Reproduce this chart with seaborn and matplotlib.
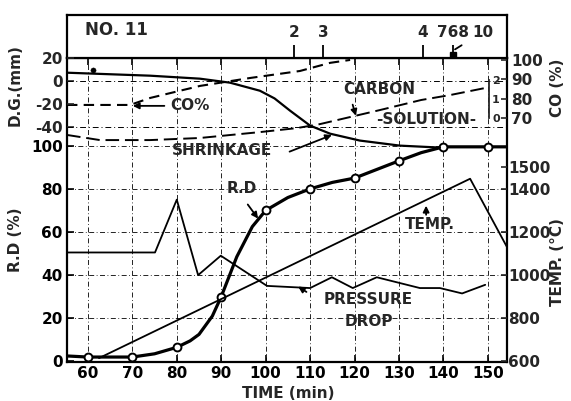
import numpy as np
import pandas as pd
import seaborn as sns
import matplotlib.pyplot as plt

# Readings taken off the figure (time in min)
rd_time = [60, 70, 80, 90, 100, 110, 120, 130, 140, 150]
rd_value = [2, 2, 6.5, 30, 70, 80, 85, 93, 99.5, 99.5]
rd_curve_time = [55.3, 60, 70, 75, 80, 83, 85, 88, 90, 93.5, 97, 100, 105, 110, 115,
                 120, 125, 130, 135, 140, 150, 154.3]
rd_curve_value = [2.5, 2, 2, 3.5, 6.5, 9.5, 12.5, 21, 30, 48.5, 62.5, 70, 76, 80, 83,
                  85, 89, 93, 96.8, 99.5, 99.5, 99.5]

temp_time = [62.5, 146, 154.3]
temp_value = [615, 1447, 1130]

dp_time = [55.3, 75.1, 80, 84.8, 89.9, 100.3, 110, 114.9, 119.6, 125, 134.7, 139.2, 144.2, 149.4]
dp_value = [50.5, 50.5, 75, 40, 49, 35, 34, 39, 34, 39, 34, 34, 31.5, 35.5]

dg_time = [55.3, 74, 85.2, 92, 98.7, 102, 105.5, 110, 114.5, 121.2, 130.2, 139.2]
dg_value = [7.4, 4.8, 2.2, -1.3, -8.3, -15, -25.7, -38.7, -45.7, -51.7, -56.1, -57.8]
dg_dot_time = [61.1]
dg_dot_value = [10]

co_time = [55.3, 69.5, 74, 85.2, 96.5, 107.7, 114.5, 119]
co_value = [76.8, 76.8, 80.4, 86.6, 90.7, 94.3, 98.5, 100]

carbon_time = [55.3, 62.7, 74, 85.2, 98.7, 107, 112.2, 125.7, 135, 141.5, 149.8]
carbon_value = [-0.89, -1.16, -1.16, -1.05, -0.74, -0.53, -0.32, 0.42, 0.95, 1.21, 1.6]

sample_time = [106.4, 112.9, 135.4, 142.2]
sample_label = ['2', '3', '4', '768']

sns.set_style('white')
plt.rcParams['font.family'] = ['DejaVu Sans']
plt.rcParams['font.weight'] = 'bold'
plt.rcParams['axes.unicode_minus'] = False

XLIM = (55.3, 154.3)
FS = 11

fig = plt.figure(figsize=(5.71, 4.01), dpi=100)
ax = fig.add_axes([67 / 571, 39 / 401, 440 / 571, 304 / 401])
ax_top = fig.add_axes([67 / 571, 343 / 401, 440 / 571, 43 / 401])

ax_t = ax.twinx()
ax_co = ax.twinx()
ax_dg = ax.twinx()
ax_c = ax.twinx()

# limits chosen so every scale lines up with the printed ticks
ax.set_xlim(XLIM)
ax.set_ylim(-0.3, 140.7)
ax_t.set_ylim(597, 2007)
ax_co.set_ylim(-55.7, 101.0)
ax_dg.set_ylim(-244.5, 20.2)
ax_c.set_ylim(-12.84, 3.16)

# grid (dash-dot like the print)
ax.grid(True, ls=(0, (6, 3, 1, 3)), lw=0.6, color='k')
ax_dg.axhline(0, ls=(0, (6, 3, 1, 3)), lw=0.7, color='k')
ax_dg.axhline(-40, ls=(0, (6, 3, 1, 3)), lw=0.7, color='k')

# series
sns.lineplot(x=dp_time, y=dp_value, ax=ax, color='k', lw=1.3, errorbar=None)
sns.lineplot(x=rd_curve_time, y=rd_curve_value, ax=ax, color='k', lw=2.3, errorbar=None)
sns.scatterplot(x=rd_time, y=rd_value, ax=ax, marker='o', s=32, color='white',
                edgecolor='k', linewidth=1.4, zorder=5)
sns.lineplot(x=temp_time, y=temp_value, ax=ax_t, color='k', lw=1.3, errorbar=None)
sns.lineplot(x=co_time, y=co_value, ax=ax_co, color='k', lw=1.5,
             linestyle=(0, (5, 3)), errorbar=None)
sns.lineplot(x=dg_time, y=dg_value, ax=ax_dg, color='k', lw=1.6, errorbar=None)
sns.scatterplot(x=dg_dot_time, y=dg_dot_value, ax=ax_dg, color='k', s=14, edgecolor='k')
sns.lineplot(x=carbon_time, y=carbon_value, ax=ax_c, color='k', lw=1.4,
             linestyle=(0, (7, 3)), errorbar=None)

# axes styling
for a in [ax_t, ax_co, ax_dg, ax_c]:
    for s in a.spines.values():
        s.set_visible(False)
    a.set_xlim(XLIM)
for s in ax.spines.values():
    s.set_linewidth(1.6)
    s.set_color('k')

ax.set_xticks(range(60, 151, 10))
ax.set_yticks(range(0, 101, 20))
ax.tick_params(axis='both', direction='in', length=5, width=1.2, labelsize=FS,
               top=True, left=True, bottom=True, pad=3, colors='k')

ax_dg.yaxis.tick_left()
ax_dg.set_yticks([20, 0, -20, -40])
ax_dg.tick_params(axis='y', direction='in', length=5, width=1.2, labelsize=FS,
                  left=True, right=False, labelleft=True, labelright=False, pad=3)

ax_co.set_yticks([70, 80, 90, 100])
ax_co.tick_params(axis='y', direction='in', length=4, width=1.2, labelsize=FS, pad=3)
ax_t.set_yticks([600, 800, 1000, 1200, 1400, 1500])
ax_t.tick_params(axis='y', direction='in', length=4, width=1.2, labelsize=FS, pad=1)

ax_c.spines['right'].set_visible(True)
ax_c.spines['right'].set_position(('data', 150.3))
ax_c.spines['right'].set_bounds(0, 2)
ax_c.spines['right'].set_linewidth(1.3)
ax_c.set_yticks([0, 1, 2])
ax_c.tick_params(axis='y', direction='in', length=0, labelsize=8, pad=2)

for a in [ax, ax_t, ax_co, ax_dg, ax_c]:
    a.set_xlabel('')
    a.set_ylabel('')

# top strip: sampling marks
ax_top.set_xlim(XLIM)
ax_top.set_ylim(0, 1)
ax_top.set_xticks([])
ax_top.set_yticks([])
for s in ax_top.spines.values():
    s.set_linewidth(1.6)
    s.set_color('k')
ax_top.vlines(sample_time, 0, 0.3, color='k', lw=1.3)
for t, lab in zip(sample_time, sample_label):
    ax_top.text(t, 0.6, lab, ha='center', va='center', fontsize=FS)
ax_top.plot([sample_time[-1]], [0.08], marker='s', ms=5, color='k')
ax_top.annotate('10', xy=(sample_time[-1] + 0.4, 0.2), xytext=(148.8, 0.6),
                ha='center', va='center', fontsize=FS,
                arrowprops=dict(arrowstyle='-', color='k', lw=1.3, shrinkA=6, shrinkB=0))
ax_top.text(0.04, 0.66, 'NO. 11', transform=ax_top.transAxes, ha='left', va='center', fontsize=12)

# annotations, in R.D data units of the main axes
tr = ax.transData
arrow = dict(arrowstyle='-|>', color='k', lw=1.3, mutation_scale=9, shrinkA=2, shrinkB=0)
ax_c.annotate('CO%', xy=(70.1, 118.5), xytext=(83, 118.5), xycoords=tr, textcoords=tr,
              ha='center', va='center', fontsize=FS, arrowprops=arrow)
ax_c.text(125.5, 125.9, 'CARBON', transform=tr, ha='center', va='center', fontsize=FS)
ax_c.annotate('', xy=(120.3, 113.9), xytext=(119.4, 120.3), xycoords=tr, textcoords=tr,
              arrowprops=arrow)
ax_c.text(136.1, 112, '-SOLUTION-', transform=tr, ha='center', va='center', fontsize=FS)
ax_c.text(90.2, 97.7, 'SHRINKAGE', transform=tr, ha='center', va='center', fontsize=FS)
ax_c.annotate('', xy=(114.9, 105), xytext=(104.8, 96.8), xycoords=tr, textcoords=tr,
              arrowprops=arrow)
ax_c.text(94.7, 80.1, 'R.D', transform=tr, ha='center', va='center', fontsize=FS)
ax_c.annotate('', xy=(98.3, 66.2), xytext=(95.6, 73.8), xycoords=tr, textcoords=tr,
              arrowprops=arrow)
ax_c.text(137, 63.4, 'TEMP.', transform=tr, ha='center', va='center', fontsize=FS)
ax_c.annotate('', xy=(136.1, 72.2), xytext=(136.1, 66.7), xycoords=tr, textcoords=tr,
              arrowprops=arrow)
ax_c.text(123, 28.7, 'PRESSURE', transform=tr, ha='center', va='center', fontsize=FS)
ax_c.text(123.2, 18.5, 'DROP', transform=tr, ha='center', va='center', fontsize=FS)
ax_c.annotate('', xy=(107.3, 34.7), xytext=(109.7, 31.5), xycoords=tr, textcoords=tr,
              arrowprops=arrow)

# axis titles
fig.text(15 / 571, 1 - 85 / 401, 'D.G.(mm)', rotation=90, ha='center', va='center', fontsize=FS)
fig.text(15 / 571, 1 - 240 / 401, 'R.D (%)', rotation=90, ha='center', va='center', fontsize=FS)
fig.text(557 / 571, 1 - 88 / 401, 'CO (%)', rotation=90, ha='center', va='center', fontsize=FS)
fig.text(557 / 571, 1 - 262 / 401, 'TEMP. (°C)', rotation=90, ha='center', va='center', fontsize=FS)
fig.text(288 / 571, 1 - 386 / 401, 'TIME (min)', ha='center', va='top', fontsize=FS)

fig.savefig('out.png', dpi=100)
